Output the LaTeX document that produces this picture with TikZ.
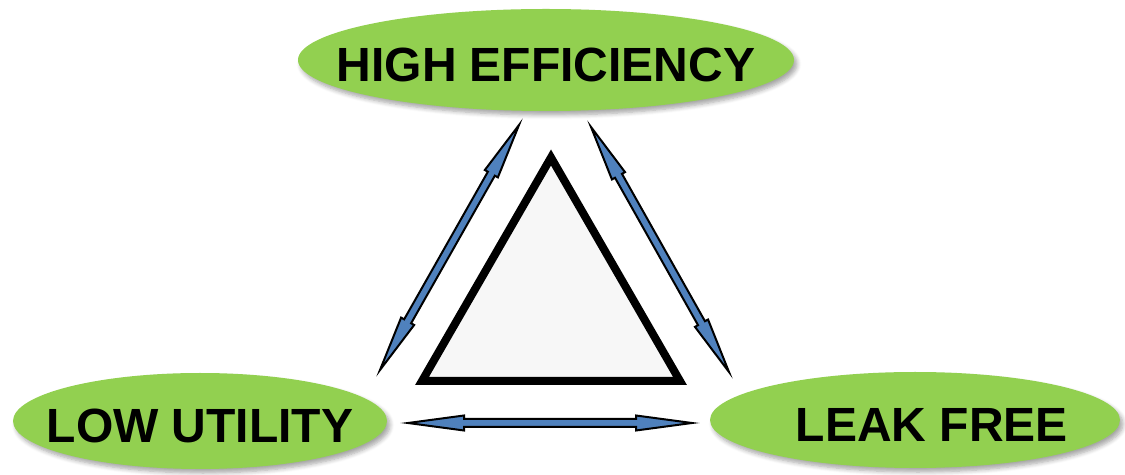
\documentclass[tikz,border=0pt]{standalone}
\usepackage{fontspec}
\setmainfont{Liberation Sans}
\usetikzlibrary{calc,shapes.geometric,shadows.blur}
\definecolor{cGoal}{HTML}{92D050}
\definecolor{cLink}{HTML}{4F81BD}
\definecolor{cCore}{HTML}{F7F7F7}
\tikzset{
  goal/.style={ellipse, fill=cGoal, inner sep=0pt,
               blur shadow={shadow xshift=1.5pt, shadow yshift=-2pt,
                            shadow blur steps=6, shadow opacity=35}},
  goaltxt/.style={font=\fontsize{24}{28}\selectfont\bfseries, text=black,
                  inner sep=0pt, yshift=-2.5pt},
  core/.style={draw=black, fill=cCore, line width=4pt, line join=miter},
  link/.style={draw=black, fill=cLink, line width=1pt, line join=miter},
}
% two-headed block arrow between two named points
\newcommand{\twoway}[2]{%
  \path[link] let \p1=($(#2)-(#1)$), \n1={veclen(\x1,\y1)},
    \n2={atan2(\y1,\x1)} in [shift={(#1)}, rotate=\n2]
    (0,0) -- (28pt,3.75pt) -- (28pt,2pt) -- ({\n1-28pt},2pt)
    -- ({\n1-28pt},3.75pt) -- (\n1,0) -- ({\n1-28pt},-3.75pt)
    -- ({\n1-28pt},-2pt) -- (28pt,-2pt) -- (28pt,-3.75pt) -- cycle;}

\begin{document}
\begin{tikzpicture}[x=0.5pt, y=-0.5pt]
  \useasboundingbox (0,0) rectangle (1125,475);

  \node[goal, minimum width=248pt, minimum height=51pt,
        label={[goaltxt]center:HIGH EFFICIENCY}] (eff) at (546,60) {};
  \node[goal, minimum width=187pt, minimum height=48pt,
        label={[goaltxt]center:LOW UTILITY}] (util) at (200,421) {};
  \node[goal, minimum width=205pt, minimum height=48pt,
        label={[goaltxt, xshift=8.5pt]center:LEAK FREE}] (leak) at (915,420) {};

  \draw[core] (551,157.5) -- (422,381) -- (680,381) -- cycle;

  \coordinate (effL) at (519,125);
  \coordinate (utilR) at (380,370);
  \coordinate (effR) at (591,127);
  \coordinate (leakL) at (729,372);
  \coordinate (utilE) at (408,423);
  \coordinate (leakW) at (692,423);

  \twoway{utilR}{effL}
  \twoway{effR}{leakL}
  \twoway{utilE}{leakW}
\end{tikzpicture}
\end{document}
